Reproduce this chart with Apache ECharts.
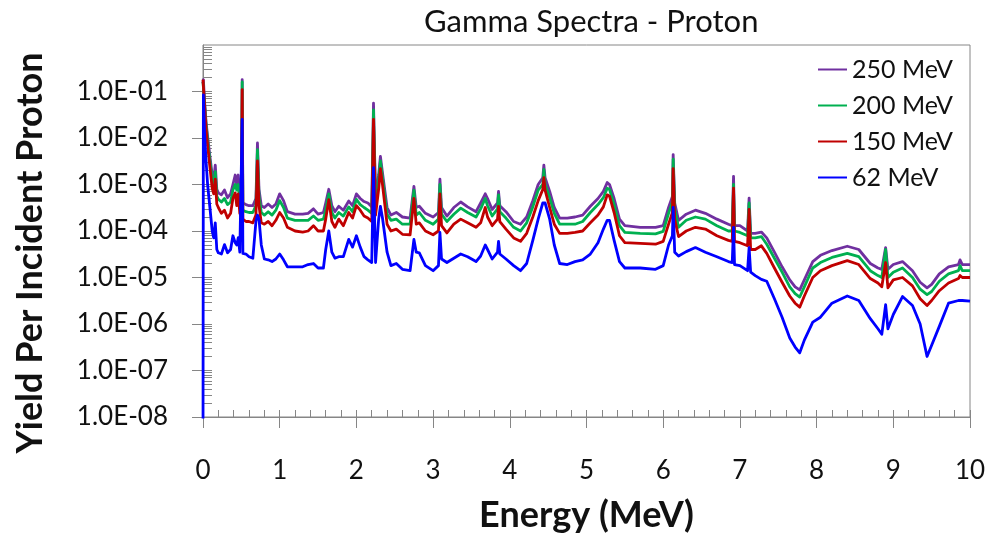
<!DOCTYPE html>
<html>
<head>
<meta charset="utf-8">
<script src="https://cdn.jsdelivr.net/npm/echarts@6/dist/echarts.min.js"></script>
<style>
  html, body { margin: 0; padding: 0; background: #fff; }
  #chart { width: 994px; height: 538px; }
</style>
</head>
<body>
<div id="chart"></div>
<script>
// Photon energy grid (MeV), shared by all four spectra
const energyMeV = [
  0, 0.005, 0.02, 0.04, 0.06, 0.09, 0.12, 0.14, 0.16, 0.18,
  0.2, 0.24, 0.28, 0.32, 0.36, 0.39, 0.42, 0.44, 0.46, 0.48,
  0.5, 0.511, 0.52, 0.56, 0.6, 0.65, 0.69, 0.71, 0.73, 0.76,
  0.8, 0.85, 0.9, 0.95, 1.0, 1.02, 1.05, 1.1, 1.2, 1.3,
  1.37, 1.44, 1.5, 1.57, 1.6, 1.64, 1.68, 1.72, 1.77, 1.83,
  1.9, 1.95, 2.0, 2.05, 2.1, 2.15, 2.2, 2.223, 2.25, 2.29,
  2.313, 2.34, 2.4, 2.45, 2.52, 2.6, 2.7, 2.75, 2.78, 2.82,
  2.9, 3.0, 3.07, 3.089, 3.11, 3.18, 3.27, 3.36, 3.45, 3.56,
  3.62, 3.68, 3.71, 3.77, 3.84, 3.853, 3.87, 3.95, 4.05, 4.14,
  4.22, 4.3, 4.37, 4.43, 4.444, 4.46, 4.52, 4.58, 4.65, 4.75,
  4.85, 4.95, 5.05, 5.15, 5.22, 5.27, 5.3, 5.36, 5.43, 5.5,
  5.7, 5.9, 6.0, 6.07, 6.12, 6.13, 6.15, 6.2, 6.3, 6.42,
  6.55, 6.7, 6.85, 6.9, 6.917, 6.93, 7.0, 7.1, 7.12, 7.14,
  7.2, 7.28, 7.35, 7.45, 7.55, 7.65, 7.72, 7.78, 7.84, 7.95,
  8.05, 8.2, 8.4, 8.55, 8.7, 8.8, 8.85, 8.9, 8.93, 9.0,
  9.12, 9.25, 9.35, 9.44, 9.5, 9.6, 9.72, 9.85, 9.87, 9.9,
  10.0
];

// Gamma yield per incident proton, 250 MeV beam
const yield250 = [
  1.5e-1, 1.8e-1, 6.3e-2, 2.2e-2, 1.1e-2, 4.0e-3, 1.6e-3, 1.3e-3, 2.6e-3, 7.9e-4,
  6.6e-4, 6.0e-4, 7.6e-4, 5.2e-4, 6.3e-4, 1.0e-3, 1.6e-3, 1.0e-3, 1.6e-3, 6.3e-4,
  5.0e-4, 1.8e-1, 4.0e-4, 3.7e-4, 3.5e-4, 3.5e-4, 5.0e-4, 7.8e-3, 7.9e-4, 3.5e-4,
  3.2e-4, 3.8e-4, 3.2e-4, 3.8e-4, 6.3e-4, 6.6e-4, 4.5e-4, 2.6e-4, 2.3e-4, 2.3e-4,
  2.4e-4, 3.0e-4, 2.3e-4, 2.5e-4, 4.0e-4, 7.9e-4, 3.5e-4, 2.6e-4, 3.4e-4, 2.8e-4,
  4.4e-4, 3.5e-4, 6.3e-4, 5.0e-4, 4.3e-4, 4.0e-4, 3.3e-4, 5.6e-2, 5.0e-4, 1.6e-3,
  4.0e-3, 1.8e-3, 3.2e-4, 2.2e-4, 2.5e-4, 2.0e-4, 1.9e-4, 9.1e-4, 3.2e-4, 3.4e-4,
  2.4e-4, 2.0e-4, 2.5e-4, 1.3e-3, 3.2e-4, 2.1e-4, 3.2e-4, 4.2e-4, 3.3e-4, 2.6e-4,
  4.0e-4, 6.3e-4, 5.0e-4, 2.9e-4, 4.0e-4, 7.1e-4, 3.5e-4, 2.6e-4, 1.6e-4, 1.4e-4,
  2.0e-4, 4.5e-4, 1.0e-3, 1.4e-3, 2.6e-3, 1.4e-3, 7.1e-4, 3.2e-4, 1.9e-4, 1.9e-4,
  2.0e-4, 2.2e-4, 3.4e-4, 5.0e-4, 7.1e-4, 1.1e-3, 1.0e-3, 5.0e-4, 1.8e-4, 1.3e-4,
  1.2e-4, 1.2e-4, 1.3e-4, 3.2e-4, 5.5e-4, 4.4e-3, 4.0e-4, 1.7e-4, 2.3e-4, 2.8e-4,
  2.4e-4, 1.8e-4, 1.4e-4, 1.3e-4, 1.5e-3, 1.3e-4, 1.3e-4, 1.0e-4, 5.1e-4, 8.9e-5,
  8.9e-5, 9.5e-5, 7.1e-5, 3.5e-5, 1.7e-5, 8.9e-6, 6.3e-6, 5.4e-6, 8.9e-6, 2.2e-5,
  3.0e-5, 3.8e-5, 4.7e-5, 4.0e-5, 2.0e-5, 1.6e-5, 1.5e-5, 4.4e-5, 1.5e-5, 1.9e-5,
  2.2e-5, 1.4e-5, 7.9e-6, 6.0e-6, 7.1e-6, 1.2e-5, 1.7e-5, 1.9e-5, 2.4e-5, 1.9e-5,
  1.9e-5
];

// 200 MeV beam
const yield200 = [
  1.6e-1, 1.7e-1, 5.6e-2, 1.9e-2, 8.9e-3, 3.2e-3, 1.2e-3, 9.3e-4, 1.9e-3, 5.6e-4,
  4.8e-4, 4.2e-4, 5.0e-4, 3.7e-4, 4.2e-4, 7.6e-4, 1.0e-3, 7.6e-4, 1.0e-3, 4.5e-4,
  3.5e-4, 1.6e-1, 2.8e-4, 2.6e-4, 2.5e-4, 2.5e-4, 3.5e-4, 5.6e-3, 5.6e-4, 2.5e-4,
  2.2e-4, 2.6e-4, 2.2e-4, 2.8e-4, 4.5e-4, 4.7e-4, 3.2e-4, 1.9e-4, 1.7e-4, 1.7e-4,
  1.7e-4, 2.1e-4, 1.7e-4, 1.8e-4, 2.8e-4, 6.3e-4, 2.5e-4, 1.9e-4, 2.5e-4, 2.1e-4,
  3.3e-4, 2.6e-4, 4.8e-4, 3.7e-4, 3.2e-4, 2.8e-4, 2.4e-4, 4.0e-2, 3.5e-4, 1.2e-3,
  3.2e-3, 1.4e-3, 2.3e-4, 1.7e-4, 1.8e-4, 1.4e-4, 1.4e-4, 7.6e-4, 2.2e-4, 2.5e-4,
  1.7e-4, 1.4e-4, 1.8e-4, 1.0e-3, 2.3e-4, 1.6e-4, 2.3e-4, 3.1e-4, 2.5e-4, 2.0e-4,
  3.0e-4, 5.0e-4, 3.5e-4, 2.1e-4, 3.0e-4, 6.0e-4, 2.6e-4, 1.9e-4, 1.2e-4, 1.0e-4,
  1.5e-4, 3.3e-4, 7.6e-4, 1.0e-3, 2.1e-3, 1.0e-3, 5.2e-4, 2.4e-4, 1.4e-4, 1.4e-4,
  1.4e-4, 1.6e-4, 2.5e-4, 3.7e-4, 5.2e-4, 8.3e-4, 7.9e-4, 3.7e-4, 1.3e-4, 9.3e-5,
  8.9e-5, 8.7e-5, 9.8e-5, 2.4e-4, 4.2e-4, 3.5e-3, 3.0e-4, 1.2e-4, 1.7e-4, 2.0e-4,
  1.8e-4, 1.3e-4, 1.0e-4, 1.0e-4, 1.0e-3, 1.0e-4, 9.3e-5, 7.9e-5, 4.0e-4, 7.1e-5,
  7.1e-5, 7.6e-5, 5.2e-5, 2.6e-5, 1.3e-5, 6.3e-6, 4.5e-6, 3.8e-6, 6.3e-6, 1.6e-5,
  2.1e-5, 2.7e-5, 3.3e-5, 2.8e-5, 1.4e-5, 1.1e-5, 1.0e-5, 4.0e-5, 1.0e-5, 1.3e-5,
  1.6e-5, 1.0e-5, 5.6e-6, 4.3e-6, 5.0e-6, 8.3e-6, 1.2e-5, 1.4e-5, 1.8e-5, 1.4e-5,
  1.4e-5
];

// 150 MeV beam
const yield150 = [
  1.8e-1, 1.8e-1, 5.0e-2, 1.6e-2, 7.1e-3, 2.4e-3, 8.3e-4, 6.3e-4, 1.3e-3, 3.8e-4,
  3.2e-4, 2.4e-4, 2.8e-4, 1.9e-4, 2.4e-4, 5.0e-4, 6.6e-4, 3.5e-4, 6.3e-4, 2.4e-4,
  2.0e-4, 1.1e-1, 1.8e-4, 1.6e-4, 1.6e-4, 1.5e-4, 2.2e-4, 3.2e-3, 3.5e-4, 1.5e-4,
  1.4e-4, 1.6e-4, 1.3e-4, 1.7e-4, 2.5e-4, 2.6e-4, 1.9e-4, 1.2e-4, 1.0e-4, 9.5e-5,
  1.0e-4, 1.3e-4, 1.0e-4, 1.0e-4, 1.8e-4, 4.7e-4, 1.6e-4, 1.2e-4, 1.8e-4, 1.3e-4,
  2.5e-4, 1.9e-4, 3.5e-4, 2.8e-4, 2.1e-4, 1.9e-4, 1.6e-4, 2.5e-2, 2.2e-4, 7.9e-4,
  2.2e-3, 1.0e-3, 1.4e-4, 1.0e-4, 1.1e-4, 8.5e-5, 8.3e-5, 5.0e-4, 1.4e-4, 1.5e-4,
  1.0e-4, 8.3e-5, 1.0e-4, 6.3e-4, 1.3e-4, 9.1e-5, 1.4e-4, 1.8e-4, 1.5e-4, 1.2e-4,
  1.5e-4, 3.2e-4, 2.0e-4, 1.3e-4, 1.8e-4, 3.4e-4, 1.6e-4, 1.1e-4, 7.1e-5, 6.0e-5,
  8.9e-5, 2.0e-4, 4.5e-4, 7.8e-4, 1.4e-3, 7.6e-4, 3.2e-4, 1.4e-4, 8.9e-5, 8.9e-5,
  9.3e-5, 1.0e-4, 1.5e-4, 2.2e-4, 3.3e-4, 6.0e-4, 5.6e-4, 2.5e-4, 7.9e-5, 5.6e-5,
  5.4e-5, 5.2e-5, 6.0e-5, 1.4e-4, 2.5e-4, 2.2e-3, 1.8e-4, 7.6e-5, 1.0e-4, 1.2e-4,
  1.1e-4, 7.9e-5, 6.3e-5, 6.0e-5, 8.3e-4, 6.0e-5, 5.6e-5, 4.8e-5, 2.9e-4, 4.0e-5,
  4.0e-5, 4.8e-5, 3.3e-5, 1.6e-5, 7.9e-6, 4.0e-6, 2.8e-6, 2.3e-6, 4.0e-6, 1.0e-5,
  1.4e-5, 1.8e-5, 2.3e-5, 1.9e-5, 9.5e-6, 7.6e-6, 6.3e-6, 2.1e-5, 6.0e-6, 8.9e-6,
  1.0e-5, 6.6e-6, 3.5e-6, 2.5e-6, 3.2e-6, 5.2e-6, 7.6e-6, 9.5e-6, 1.1e-5, 1.0e-5,
  1.0e-5
];

// 62 MeV beam
const yield62 = [
  1.0e-9, 8.5e-2, 1.3e-2, 3.2e-3, 1.0e-3, 3.2e-4, 1.0e-4, 7.1e-5, 1.5e-4, 4.0e-5,
  3.4e-5, 3.2e-5, 5.1e-5, 3.4e-5, 4.0e-5, 7.9e-5, 5.6e-5, 5.0e-5, 7.2e-5, 3.5e-5,
  3.2e-5, 2.5e-2, 3.3e-5, 3.2e-5, 2.8e-5, 2.6e-5, 1.6e-4, 2.2e-4, 1.8e-4, 5.0e-5,
  2.5e-5, 2.4e-5, 2.2e-5, 2.5e-5, 3.2e-5, 3.4e-5, 2.4e-5, 1.7e-5, 1.7e-5, 1.7e-5,
  1.9e-5, 2.0e-5, 1.6e-5, 1.6e-5, 4.0e-5, 1.0e-4, 3.5e-5, 2.6e-5, 2.8e-5, 2.8e-5,
  6.6e-5, 4.5e-5, 7.9e-5, 4.5e-5, 2.8e-5, 2.4e-5, 2.1e-5, 2.3e-3, 2.1e-5, 1.8e-4,
  3.4e-4, 1.9e-4, 3.5e-5, 1.8e-5, 2.0e-5, 1.5e-5, 1.4e-5, 6.6e-5, 3.5e-5, 3.4e-5,
  1.8e-5, 1.4e-5, 1.8e-5, 9.3e-5, 2.5e-5, 2.1e-5, 2.6e-5, 3.2e-5, 2.8e-5, 2.2e-5,
  2.9e-5, 5.0e-5, 4.0e-5, 2.5e-5, 3.5e-5, 6.0e-5, 3.2e-5, 2.5e-5, 1.8e-5, 1.4e-5,
  2.0e-5, 6.3e-5, 1.8e-4, 4.0e-4, 4.4e-4, 4.0e-4, 1.8e-4, 5.0e-5, 2.0e-5, 1.9e-5,
  2.2e-5, 2.4e-5, 3.2e-5, 5.6e-5, 1.1e-4, 1.7e-4, 1.7e-4, 6.3e-5, 2.2e-5, 1.6e-5,
  1.6e-5, 1.5e-5, 1.8e-5, 5.0e-5, 7.9e-5, 3.2e-4, 3.5e-5, 2.9e-5, 3.6e-5, 4.4e-5,
  3.5e-5, 2.8e-5, 2.2e-5, 2.1e-5, 1.2e-4, 1.9e-5, 1.8e-5, 1.4e-5, 4.4e-5, 1.3e-5,
  1.1e-5, 9.1e-6, 8.3e-6, 3.5e-6, 1.4e-6, 5.0e-7, 3.2e-7, 2.4e-7, 4.5e-7, 1.1e-6,
  1.4e-6, 2.8e-6, 4.0e-6, 3.2e-6, 1.3e-6, 7.9e-7, 6.0e-7, 2.6e-6, 7.9e-7, 1.6e-6,
  3.9e-6, 2.5e-6, 1.0e-6, 2.0e-7, 3.5e-7, 8.9e-7, 2.8e-6, 3.2e-6, 3.3e-6, 3.2e-6,
  3.1e-6
];

const seriesNames = ['250 MeV', '200 MeV', '150 MeV', '62 MeV'];
const seriesValues = [yield250, yield200, yield150, yield62];

// Labelled decades on the yield axis
const decadeTicks = [1e-8, 1e-7, 1e-6, 1e-5, 1e-4, 1e-3, 1e-2, 1e-1];

// Inner tick marks at 1..9 x 10^n for every decade of the axis
const innerLogTicks = [];
for (let p = -8; p < 0; p++) {
  for (let k = 1; k <= 9; k++) innerLogTicks.push(k * Math.pow(10, p));
}

const FONT = 'Lato';
const AXIS_GRAY = '#868686';
const lineColors = ['#7030A0', '#00B050', '#C00000', '#0000FF'];

function sciLabel(v) {
  const e = Math.round(Math.log10(v));
  const mag = Math.abs(e);
  return '1.0E' + (e < 0 ? '-' : '+') + (mag < 10 ? '0' + mag : String(mag));
}

const chart = echarts.init(document.getElementById('chart'), null, { renderer: 'canvas' });

chart.setOption({
  animation: false,
  backgroundColor: '#ffffff',
  title: {
    text: 'Gamma Spectra - Proton',
    left: 419,
    top: 1,
    textStyle: { fontFamily: FONT, fontSize: 31, fontWeight: 'normal', color: '#111' }
  },
  legend: {
    orient: 'vertical',
    left: 813,
    top: 52,
    itemGap: 11,
    icon: 'rect',
    itemWidth: 29,
    itemHeight: 2,
    data: seriesNames,
    textStyle: { fontFamily: FONT, fontSize: 25, color: '#111' }
  },
  grid: {
    left: 203, right: 24, top: 45, bottom: 119,
    show: true, borderColor: AXIS_GRAY, borderWidth: 1,
    containLabel: false
  },
  xAxis: [
    {
      type: 'value', min: 0, max: 10, interval: 1, position: 'bottom',
      axisLine: { show: true, lineStyle: { color: AXIS_GRAY, width: 1 } },
      axisTick: { show: true, inside: false, length: 11, lineStyle: { color: AXIS_GRAY } },
      axisLabel: { margin: 41, fontFamily: FONT, fontSize: 26, color: '#111' },
      splitLine: { show: false },
      name: 'Energy (MeV)', nameLocation: 'middle', nameGap: 80,
      nameTextStyle: { fontFamily: FONT, fontSize: 36, fontWeight: 'bold', color: '#111' }
    },
    {
      type: 'value', min: 0, max: 10, interval: 1, position: 'bottom',
      axisLine: { show: false },
      axisTick: { show: true, inside: true, length: 7, lineStyle: { color: AXIS_GRAY } },
      minorTick: { show: true, splitNumber: 5, length: 7, lineStyle: { color: AXIS_GRAY } },
      axisLabel: { show: false },
      splitLine: { show: false }
    }
  ],
  yAxis: [
    {
      type: 'log', logBase: 10, min: 1e-8, max: 1, position: 'left',
      axisLine: { show: true, lineStyle: { color: AXIS_GRAY, width: 1 } },
      axisTick: { show: true, inside: false, length: 11, customValues: decadeTicks, lineStyle: { color: AXIS_GRAY } },
      axisLabel: {
        customValues: decadeTicks, formatter: sciLabel, margin: 35,
        fontFamily: FONT, fontSize: 26, color: '#111'
      },
      splitLine: { show: false },
      name: 'Yield Per Incident Proton', nameLocation: 'middle', nameGap: 155, nameRotate: 90,
      nameTextStyle: { fontFamily: FONT, fontSize: 36, fontWeight: 'bold', color: '#111', padding: [0, 44, 0, 0] }
    },
    {
      type: 'log', logBase: 10, min: 1e-8, max: 1, position: 'left',
      axisLine: { show: false },
      axisTick: { show: true, inside: true, length: 9, customValues: innerLogTicks, lineStyle: { color: AXIS_GRAY } },
      axisLabel: { show: false },
      splitLine: { show: false }
    }
  ],
  series: seriesNames.map((name, i) => ({
    type: 'line',
    name: name,
    xAxisIndex: 0,
    yAxisIndex: 0,
    data: energyMeV.map((e, j) => [e, seriesValues[i][j]]),
    symbol: 'none',
    showSymbol: false,
    clip: true,
    itemStyle: { color: lineColors[i] },
    lineStyle: { color: lineColors[i], width: 2.8, join: 'round' }
  }))
});
</script>
</body>
</html>
